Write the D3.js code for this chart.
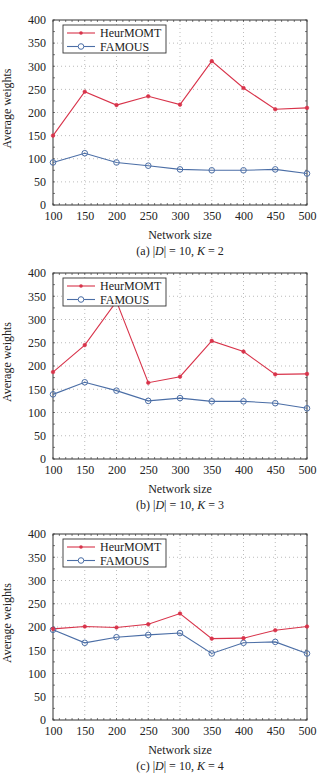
<!DOCTYPE html>
<html><head><meta charset="utf-8">
<script src="https://cdn.jsdelivr.net/npm/d3@7"></script>
<style>
body{margin:0;background:#fff;}
svg text{font-family:"Liberation Serif","DejaVu Serif",serif !important;fill:#222;}
</style></head>
<body>
<svg id="chart" width="333" height="775" font-family="Liberation Serif, serif"></svg>
<script>
const networkSizes = [100,150,200,250,300,350,400,450,500];
const yTicks = [0,50,100,150,200,250,300,350,400];
const seriesNames = ["HeurMOMT","FAMOUS"];
const heurA = [150,245,216,235,217,311,253,207,210];
const famousA = [92,112,92,85,77,75,75,77,68];
const heurB = [187,245,339,164,177,254,231,182,183];
const famousB = [139,165,147,125,131,124,124,120,109];
const heurC = [196,201,199,206,229,175,176,193,201];
const famousC = [194,166,178,183,187,143,166,168,143];
const captions = ["(a)","(b)","(c)"];
const kValues = [2,3,4];

const panels = [
  {top:20, bottom:205, heur:heurA, fam:famousA, cap:captions[0], k:kValues[0]},
  {top:273, bottom:459, heur:heurB, fam:famousB, cap:captions[1], k:kValues[1]},
  {top:534, bottom:720, heur:heurC, fam:famousC, cap:captions[2], k:kValues[2]}
];
const left = 53, right = 307;
const red = "#d8334a", blue = "#4b6ea6";
const FONT = "Liberation Serif";
const svg = d3.select("#chart");

panels.forEach(p => {
  const g = svg.append("g");
  const x = d3.scaleLinear().domain([100,500]).range([left,right]);
  const y = d3.scaleLinear().domain([0,400]).range([p.bottom,p.top]);
  // grid
  g.append("g").selectAll("line").data(yTicks.slice(1,-1)).join("line")
    .attr("x1",left).attr("x2",right).attr("y1",d=>y(d)).attr("y2",d=>y(d))
    .attr("stroke","#aaa").attr("stroke-width",0.8).attr("stroke-dasharray","1,3");
  g.append("g").selectAll("line").data(networkSizes.slice(1,-1)).join("line")
    .attr("y1",p.top).attr("y2",p.bottom).attr("x1",d=>x(d)).attr("x2",d=>x(d))
    .attr("stroke","#aaa").attr("stroke-width",0.8).attr("stroke-dasharray","1,3");
  // minor ticks
  const minorX = d3.range(100,501,10);
  g.append("g").selectAll("line").data(minorX).join("line")
    .attr("x1",d=>x(d)).attr("x2",d=>x(d)).attr("y1",p.top).attr("y2",p.top+2)
    .attr("stroke","#444").attr("stroke-width",0.7);
  g.append("g").selectAll("line").data(minorX).join("line")
    .attr("x1",d=>x(d)).attr("x2",d=>x(d)).attr("y1",p.bottom).attr("y2",p.bottom-2)
    .attr("stroke","#444").attr("stroke-width",0.7);
  const minorY = d3.range(0,401,25);
  g.append("g").selectAll("line").data(minorY).join("line")
    .attr("y1",d=>y(d)).attr("y2",d=>y(d)).attr("x1",right).attr("x2",right-2)
    .attr("stroke","#444").attr("stroke-width",0.7);
  g.append("g").selectAll("line").data(minorY).join("line")
    .attr("y1",d=>y(d)).attr("y2",d=>y(d)).attr("x1",left).attr("x2",left+2)
    .attr("stroke","#444").attr("stroke-width",0.7);
  // frame
  g.append("rect").attr("x",left).attr("y",p.top).attr("width",right-left).attr("height",p.bottom-p.top)
    .attr("fill","none").attr("stroke","#333").attr("stroke-width",1);
  // axes labels
  const yAxis = d3.axisLeft(y).tickValues(yTicks).tickSize(0).tickPadding(7);
  const ya = g.append("g").attr("transform",`translate(${left},0)`).call(yAxis)
    .attr("font-family",FONT).attr("font-size",12);
  ya.select(".domain").remove();
  ya.selectAll("text").attr("fill","#222");
  const xAxis = d3.axisBottom(x).tickValues(networkSizes).tickSize(0).tickPadding(6);
  const xa = g.append("g").attr("transform",`translate(0,${p.bottom})`).call(xAxis)
    .attr("font-family",FONT).attr("font-size",12);
  xa.select(".domain").remove();
  xa.selectAll("text").attr("fill","#222");
  // titles
  g.append("text").attr("transform",`translate(11,${(p.top+p.bottom)/2 - 4}) rotate(-90)`)
    .attr("font-family",FONT).attr("font-size",12)
    .attr("text-anchor","middle").text("Average weights");
  g.append("text").attr("x",(left+right)/2).attr("y",p.bottom+34).attr("text-anchor","middle")
    .attr("font-family",FONT).attr("font-size",12).text("Network size");
  const cap = g.append("text").attr("x",(left+right)/2).attr("y",p.bottom+50).attr("text-anchor","middle")
    .attr("font-family",FONT).attr("font-size",12);
  cap.append("tspan").text(p.cap+" |");
  cap.append("tspan").attr("font-style","italic").text("D");
  cap.append("tspan").text("| = 10, ");
  cap.append("tspan").attr("font-style","italic").text("K");
  cap.append("tspan").text(" = "+p.k);
  // lines
  const line = d3.line().x((d,i)=>x(networkSizes[i])).y(d=>y(d));
  g.append("path").datum(p.fam).attr("d",line).attr("fill","none").attr("stroke",blue).attr("stroke-width",1.1);
  g.append("path").datum(p.heur).attr("d",line).attr("fill","none").attr("stroke",red).attr("stroke-width",1.1);
  g.append("g").selectAll("circle").data(p.fam).join("circle")
    .attr("cx",(d,i)=>x(networkSizes[i])).attr("cy",d=>y(d)).attr("r",2.8)
    .attr("fill","none").attr("stroke",blue).attr("stroke-width",1);
  g.append("g").selectAll("circle").data(p.heur).join("circle")
    .attr("cx",(d,i)=>x(networkSizes[i])).attr("cy",d=>y(d)).attr("r",1.8)
    .attr("fill",red).attr("stroke",red).attr("stroke-width",0.6);
  // legend
  const lx = 63, ly = p.top+5;
  const lg = g.append("g");
  lg.append("rect").attr("x",lx).attr("y",ly).attr("width",103).attr("height",28)
    .attr("fill","#fff").attr("stroke","#333").attr("stroke-width",0.9);
  seriesNames.forEach((name,i) => {
    const yy = ly+8+i*13.5;
    const col = i===0?red:blue;
    lg.append("line").attr("x1",lx+4).attr("x2",lx+32).attr("y1",yy).attr("y2",yy)
      .attr("stroke",col).attr("stroke-width",1.1);
    if(i===0) lg.append("circle").attr("cx",lx+18).attr("cy",yy).attr("r",1.8).attr("fill",red);
    else lg.append("circle").attr("cx",lx+18).attr("cy",yy).attr("r",2.8).attr("fill","#fff").attr("stroke",blue);
    lg.append("text").attr("x",lx+37).attr("y",yy+4)
      .attr("font-family",FONT).attr("font-size",12).text(name);
  });
});
</script>
</body></html>
